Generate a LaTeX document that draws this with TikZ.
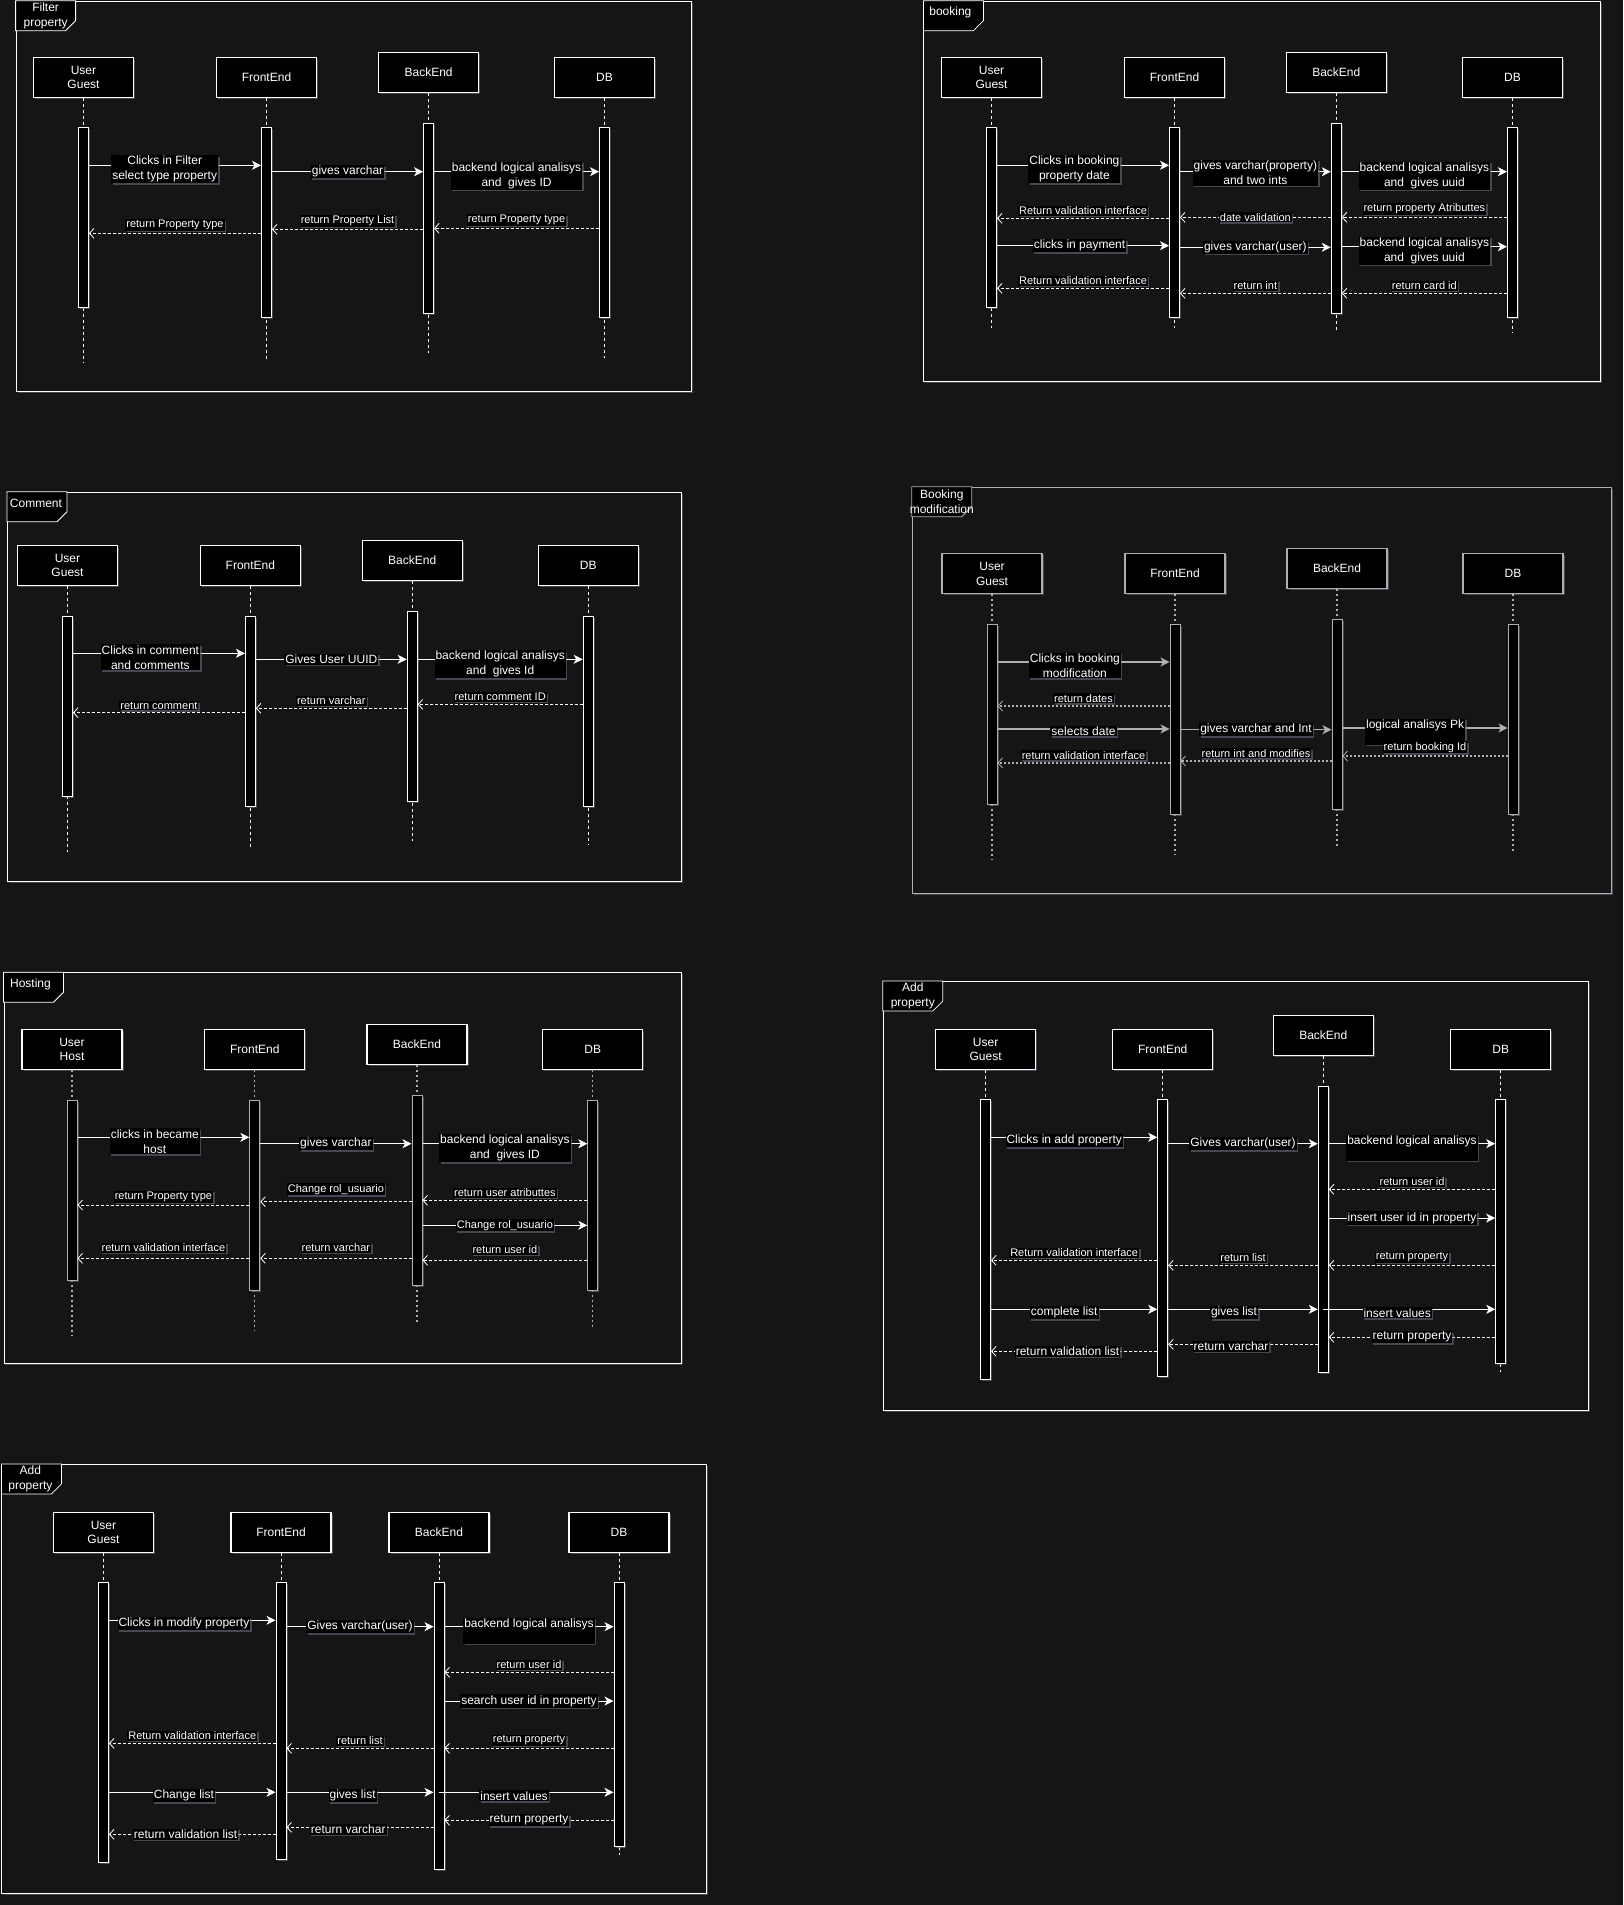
\documentclass[tikz,border=0pt]{standalone}
\usepackage{fontspec}
\setmainfont{Liberation Sans}
\usetikzlibrary{arrows.meta, calc, shadows}

\definecolor{bgc}{RGB}{21,21,21}
\definecolor{haloc}{RGB}{105,105,125}
\definecolor{inkgrey}{RGB}{175,175,175}
\colorlet{ink}{white}

\begin{document}
\begin{tikzpicture}[
  x=1pt, y=-1pt,
  halo/.style={drop shadow={shadow xshift=1.5pt, shadow yshift=-1.5pt, fill=haloc, opacity=0.6}},
  sdframe/.style={draw=ink, fill=bgc, line width=0.8pt, anchor=north west, inner sep=0pt, halo},
  sdtab/.style={draw=ink, fill=black, line width=0.8pt},
  tabtext/.style={text=white, align=center, font=\fontsize{12}{15}\selectfont, inner sep=0pt},
  actor/.style={
    draw=ink, fill=black, line width=1.1pt, minimum width=100pt, minimum height=40pt,
    inner sep=0pt, align=center, text=white, font=\fontsize{12}{14.5}\selectfont, halo
  },
  actbar/.style={draw=ink, fill=black, line width=1pt, minimum width=10pt, inner sep=0pt, anchor=north, halo},
  lifeline/.style={draw=ink, line width=0.7pt, dash pattern=on 3pt off 3pt},
  msg/.style={draw=ink, line width=0.9pt, -{Stealth[length=9pt, width=9pt, inset=2.5pt]}},
  back/.style={
    draw=ink, line width=0.8pt, dash pattern=on 3pt off 2pt,
    -{Straight Barb[length=4.5pt, width=10pt, line width=0.8pt]}
  },
  lbl/.style={fill=black, text=white, inner sep=1pt, align=center, font=\fontsize{12}{15}\selectfont, halo},
  rlbl/.style={lbl, font=\fontsize{11}{13}\selectfont}
]
  \fill[bgc] (0,0) rectangle (1623,1905);
  \useasboundingbox (0,0) rectangle (1623,1905);

  % ---- Filter property
  \node[sdframe, minimum width=675pt, minimum height=390pt] (fr1) at (15.6,0.7) {};
  \draw[sdtab] (fr1.north west) -- ++(60,0) -- ++(0,20) -- ++(-10,10) -- ++(-50,0) -- cycle;
  \node[tabtext] (t1) at ($(fr1.north west)+(30,15)$) {Filter\\property};

  \node[actor] (u1) at (83.5,77.3) {User\\Guest};
  \node[actor] (f1) at (266.5,77.3) {FrontEnd};
  \node[actor] (b1) at (428.6,72.3) {BackEnd};
  \node[actor] (d1) at (604.5,77.3) {DB};
  \draw[lifeline] (u1) -- (u1 |- 0,363);
  \draw[lifeline] (f1) -- (f1 |- 0,359);
  \draw[lifeline] (b1) -- (b1 |- 0,353);
  \draw[lifeline] (d1) -- (d1 |- 0,358);
  \node[actbar, minimum height=180pt] (u1a) at (u1 |- 0,127.3) {};
  \node[actbar, minimum height=190pt] (f1a) at (f1 |- 0,127.3) {};
  \node[actbar, minimum height=190pt] (b1a) at (b1 |- 0,122.7) {};
  \node[actbar, minimum height=190pt] (d1a) at (d1 |- 0,127.3) {};

  \draw[msg] (u1a.east |- 0,165.3) -- node[lbl, pos=.44, yshift=-4pt] {Clicks in Filter\\select type property} (f1a.west |- 0,165.3);
  \draw[msg] (f1a.east |- 0,171.7) -- node[lbl] {gives varchar} (b1a.west |- 0,171.7);
  \draw[msg] (b1a.east |- 0,171.7) -- node[lbl, yshift=-4pt] {backend logical analisys\\and~~gives ID} (d1a.west |- 0,171.7);
  \draw[back] (d1a.west |- 0,228.3) -- node[rlbl, above=2pt] {return Property type} (b1a.east |- 0,228.3);
  \draw[back] (b1a.west |- 0,229.3) -- node[rlbl, above=2pt] {return Property List} (f1a.east |- 0,229.3);
  \draw[back] (f1a.west |- 0,233.3) -- node[rlbl, above=2pt] {return Property type} (u1a.east |- 0,233.3);

  % ---- booking
  \node[sdframe, minimum width=676.3pt, minimum height=380.3pt] (fr2) at (923.4,0.7) {};
  \draw[sdtab] (fr2.north west) -- ++(60,0) -- ++(0,20) -- ++(-10,10) -- ++(-50,0) -- cycle;
  \node[tabtext] (t2) at ($(fr2.north west)+(27,12)$) {booking};

  \node[actor] (u2) at (991.5,77.3) {User\\Guest};
  \node[actor] (f2) at (1174.5,77.3) {FrontEnd};
  \node[actor] (b2) at (1336.3,72.3) {BackEnd};
  \node[actor] (d2) at (1512.4,77.3) {DB};
  \draw[lifeline] (u2) -- (u2 |- 0,328);
  \draw[lifeline] (f2) -- (f2 |- 0,328);
  \draw[lifeline] (b2) -- (b2 |- 0,330);
  \draw[lifeline] (d2) -- (d2 |- 0,333);
  \node[actbar, minimum height=180pt] (u2a) at (u2 |- 0,127.3) {};
  \node[actbar, minimum height=190pt] (f2a) at (f2 |- 0,127.3) {};
  \node[actbar, minimum height=190pt] (b2a) at (b2 |- 0,122.7) {};
  \node[actbar, minimum height=190pt] (d2a) at (d2 |- 0,127.3) {};

  \draw[msg] (u2a.east |- 0,165.3) -- node[lbl, pos=.45, yshift=-4pt] {Clicks in booking\\property date} (f2a.west |- 0,165.3);
  \draw[msg] (f2a.east |- 0,171.7) -- node[lbl, yshift=-1pt] {gives varchar(property)\\and two ints} (b2a.west |- 0,171.7);
  \draw[msg] (b2a.east |- 0,171.7) -- node[lbl, yshift=-4pt] {backend logical analisys\\and~~gives uuid} (d2a.west |- 0,171.7);
  \draw[back] (d2a.west |- 0,217.3) -- node[rlbl, above=2pt] {return property Atributtes} (b2a.east |- 0,217.3);
  \draw[back] (b2a.west |- 0,217.3) -- node[rlbl] {date validation} (f2a.east |- 0,217.3);
  \draw[back] (f2a.west |- 0,218.3) -- node[rlbl, above=2pt] {Return validation interface} (u2a.east |- 0,218.3);
  \draw[msg] (u2a.east |- 0,245.7) -- node[lbl, pos=.48] {clicks in payment} (f2a.west |- 0,245.7);
  \draw[msg] (f2a.east |- 0,247.3) -- node[lbl] {gives varchar(user)} (b2a.west |- 0,247.3);
  \draw[msg] (b2a.east |- 0,246.7) -- node[lbl, yshift=-4pt] {backend logical analisys\\and~~gives uuid} (d2a.west |- 0,246.7);
  \draw[back] (f2a.west |- 0,288.3) -- node[rlbl, above=2pt] {Return validation interface} (u2a.east |- 0,288.3);
  \draw[back] (b2a.west |- 0,293.3) -- node[rlbl, above=2pt] {return int} (f2a.east |- 0,293.3);
  \draw[back] (d2a.west |- 0,293.3) -- node[rlbl, above=2pt] {return card id} (b2a.east |- 0,293.3);

  % ---- Comment
  \node[sdframe, minimum width=674pt, minimum height=389.3pt] (fr3) at (7,491.7) {};
  \draw[sdtab] (fr3.north west) -- ++(60,0) -- ++(0,20) -- ++(-10,10) -- ++(-50,0) -- cycle;
  \node[tabtext] (t3) at ($(fr3.north west)+(29,12)$) {Comment};

  \node[actor] (u3) at (67.5,565.3) {User\\Guest};
  \node[actor] (f3) at (250.4,565.3) {FrontEnd};
  \node[actor] (b3) at (412.2,560.3) {BackEnd};
  \node[actor] (d3) at (588.2,565.3) {DB};
  \draw[lifeline] (u3) -- (u3 |- 0,851.7);
  \draw[lifeline] (f3) -- (f3 |- 0,846.7);
  \draw[lifeline] (b3) -- (b3 |- 0,841);
  \draw[lifeline] (d3) -- (d3 |- 0,845);
  \node[actbar, minimum height=180pt] (u3a) at (u3 |- 0,615.7) {};
  \node[actbar, minimum height=190pt] (f3a) at (f3 |- 0,615.7) {};
  \node[actbar, minimum height=190pt] (b3a) at (b3 |- 0,610.7) {};
  \node[actbar, minimum height=190pt] (d3a) at (d3 |- 0,615.7) {};

  \draw[msg] (u3a.east |- 0,653.3) -- node[lbl, pos=.45, yshift=-4pt] {Clicks in comment\\and comments} (f3a.west |- 0,653.3);
  \draw[msg] (f3a.east |- 0,659.3) -- node[lbl] {Gives User UUID} (b3a.west |- 0,659.3);
  \draw[msg] (b3a.east |- 0,659.3) -- node[lbl, yshift=-5pt] {backend logical analisys\\and~~gives Id} (d3a.west |- 0,659.3);
  \draw[back] (d3a.west |- 0,704.3) -- node[rlbl, above=2pt] {return comment ID} (b3a.east |- 0,704.3);
  \draw[back] (b3a.west |- 0,708.3) -- node[rlbl, above=2pt] {return varchar} (f3a.east |- 0,708.3);
  \draw[back] (f3a.west |- 0,712.7) -- node[rlbl, above=2pt] {return comment} (u3a.east |- 0,712.7);

  % ---- Booking modification
  \begin{scope}[
    lifeline/.style={draw=inkgrey, line width=1.4pt, dash pattern=on 2pt off 3pt},
    msg/.append style={line width=1.3pt},
    back/.append style={line width=1.3pt, dash pattern=on 2pt off 2pt}
  ]
  \colorlet{ink}{inkgrey}
  \node[sdframe, minimum width=699.2pt, minimum height=406.6pt] (fr4) at (911.8,486.7) {};
  \draw[sdtab] (fr4.north west) -- ++(60,0) -- ++(0,20) -- ++(-10,10) -- ++(-50,0) -- cycle;
  \node[tabtext] (t4) at ($(fr4.north west)+(30,15)$) {Booking\\modification};

  \node[actor] (u4) at (992,573.7) {User\\Guest};
  \node[actor] (f4) at (1175,573.7) {FrontEnd};
  \node[actor] (b4) at (1337,568.7) {BackEnd};
  \node[actor] (d4) at (1513,573.7) {DB};
  \draw[lifeline] (u4) -- (u4 |- 0,860);
  \draw[lifeline] (f4) -- (f4 |- 0,855);
  \draw[lifeline] (b4) -- (b4 |- 0,849);
  \draw[lifeline] (d4) -- (d4 |- 0,854);
  \node[actbar, minimum height=180pt] (u4a) at (u4 |- 0,624) {};
  \node[actbar, minimum height=190pt] (f4a) at (f4 |- 0,624) {};
  \node[actbar, minimum height=190pt] (b4a) at (b4 |- 0,619) {};
  \node[actbar, minimum height=190pt] (d4a) at (d4 |- 0,624) {};

  \draw[msg] (u4a.east |- 0,662) -- node[lbl, pos=.45, yshift=-3.5pt] {Clicks in booking\\modification} (f4a.west |- 0,662);
  \draw[back] (f4a.west |- 0,706) -- node[rlbl, above=2pt] {return dates} (u4a.east |- 0,706);
  \draw[msg] (u4a.east |- 0,729) -- node[lbl, yshift=-2pt] {selects date} (f4a.west |- 0,729);
  \draw[msg] (f4a.east |- 0,729.7) -- node[lbl] {gives varchar and Int} (b4a.west |- 0,729.7);
  \draw[msg] (b4a.east |- 0,728) -- node[lbl, pos=.44, yshift=-3.7pt] {logical analisys Pk\\~} (d4a.west |- 0,728);
  \draw[back] (d4a.west |- 0,756) -- node[rlbl, above=2pt] {return booking Id} (b4a.east |- 0,756);
  \draw[back] (b4a.west |- 0,761) -- node[rlbl, above=2pt] {return int and modifies} (f4a.east |- 0,761);
  \draw[back] (f4a.west |- 0,763) -- node[rlbl, above=2pt] {return validation interface} (u4a.east |- 0,763);
  \end{scope}

  % ---- Hosting
  \begin{scope}[
    lifeline/.style={draw=inkgrey, line width=1.3pt, dash pattern=on 2pt off 3pt},
    actbar/.append style={draw=inkgrey}
  ]
  \node[sdframe, minimum width=677.2pt, minimum height=391pt] (fr5) at (3.5,972.3) {};
  \draw[sdtab] (fr5.north west) -- ++(60,0) -- ++(0,20) -- ++(-10,10) -- ++(-50,0) -- cycle;
  \node[tabtext] (t5) at ($(fr5.north west)+(27,12)$) {Hosting};

  \node[actor] (u5) at (72,1049.3) {User\\Host};
  \node[actor] (f5) at (254.8,1049.3) {FrontEnd};
  \node[actor] (b5) at (417,1044.3) {BackEnd};
  \node[actor] (d5) at (592.8,1049.3) {DB};
  \draw[lifeline] (u5) -- (u5 |- 0,1335);
  \draw[lifeline] (f5) -- (f5 |- 0,1330);
  \draw[lifeline] (b5) -- (b5 |- 0,1324);
  \draw[lifeline] (d5) -- (d5 |- 0,1329);
  \node[actbar, minimum height=180pt] (u5a) at (u5 |- 0,1099.7) {};
  \node[actbar, minimum height=190pt] (f5a) at (f5 |- 0,1099.7) {};
  \node[actbar, minimum height=190pt] (b5a) at (b5 |- 0,1094.7) {};
  \node[actbar, minimum height=190pt] (d5a) at (d5 |- 0,1099.7) {};

  \draw[msg] (u5a.east |- 0,1137.3) -- node[lbl, pos=.45, yshift=-4pt] {clicks in became\\host} (f5a.west |- 0,1137.3);
  \draw[msg] (f5a.east |- 0,1143.7) -- node[lbl] {gives varchar} (b5a.west |- 0,1143.7);
  \draw[msg] (b5a.east |- 0,1143.7) -- node[lbl, yshift=-4.5pt] {backend logical analisys\\and~~gives ID} (d5a.west |- 0,1143.7);
  \draw[back] (d5a.west |- 0,1200.3) -- node[rlbl, above=2pt] {return user atributtes} (b5a.east |- 0,1200.3);
  \draw[back] (b5a.west |- 0,1201.7) -- node[rlbl, above=6pt] {Change rol\_usuario} (f5a.east |- 0,1201.7);
  \draw[back] (f5a.west |- 0,1205) -- node[rlbl, above=2pt] {return Property type} (u5a.east |- 0,1205);
  \draw[msg] (b5a.east |- 0,1225.3) -- node[rlbl] {Change rol\_usuario} (d5a.west |- 0,1225.3);
  \draw[back] (d5a.west |- 0,1260.3) -- node[rlbl, above=5pt] {return user id} (b5a.east |- 0,1260.3);
  \draw[back] (b5a.west |- 0,1258.3) -- node[rlbl, above=5pt] {return varchar} (f5a.east |- 0,1258.3);
  \draw[back] (f5a.west |- 0,1258.3) -- node[rlbl, above=5pt] {return validation interface} (u5a.east |- 0,1258.3);
  \end{scope}

  % ---- Add property
  \node[sdframe, minimum width=705.3pt, minimum height=428.7pt] (fr6) at (882.8,981) {};
  \draw[sdtab] (fr6.north west) -- ++(60,0) -- ++(0,20) -- ++(-10,10) -- ++(-50,0) -- cycle;
  \node[tabtext] (t6) at ($(fr6.north west)+(30,15)$) {Add\\property};

  \node[actor] (u6) at (985.6,1049.3) {User\\Guest};
  \node[actor] (f6) at (1162.7,1049.3) {FrontEnd};
  \node[actor] (b6) at (1323.3,1035.3) {BackEnd};
  \node[actor] (d6) at (1500.7,1049.3) {DB};
  \draw[lifeline] (u6) -- (u6 |- 0,1378.7);
  \draw[lifeline] (f6) -- (f6 |- 0,1376.3);
  \draw[lifeline] (b6) -- (b6 |- 0,1372.3);
  \draw[lifeline] (d6) -- (d6 |- 0,1372);
  \node[actbar, minimum height=279.4pt] (u6a) at (u6 |- 0,1099.3) {};
  \node[actbar, minimum height=277pt] (f6a) at (f6 |- 0,1099.3) {};
  \node[actbar, minimum height=286.6pt] (b6a) at (b6 |- 0,1085.7) {};
  \node[actbar, minimum height=263.7pt] (d6a) at (d6 |- 0,1099.3) {};

  \draw[msg] (u6a.east |- 0,1137.3) -- node[lbl, pos=.44, yshift=-3.5pt] {Clicks in add property} (f6a.west |- 0,1137.3);
  \draw[msg] (f6a.east |- 0,1143.7) -- node[lbl] {Gives varchar(user)} (b6a.west |- 0,1143.7);
  \draw[msg] (b6a.east |- 0,1143.7) -- node[lbl, yshift=-4pt] {backend logical analisys\\~} (d6a.west |- 0,1143.7);
  \draw[back] (d6a.west |- 0,1189.3) -- node[rlbl, above=2pt] {return user id} (b6a.east |- 0,1189.3);
  \draw[msg] (b6a.east |- 0,1218) -- node[lbl] {insert user id in property} (d6a.west |- 0,1218);
  \draw[back] (f6a.west |- 0,1260.3) -- node[rlbl, above=2pt] {Return validation interface} (u6a.east |- 0,1260.3);
  \draw[back] (b6a.west |- 0,1265.3) -- node[rlbl, above=2pt] {return list} (f6a.east |- 0,1265.3);
  \draw[back] (d6a.west |- 0,1265.3) -- node[rlbl, above=2pt] {return property} (b6a.east |- 0,1265.3);
  \draw[msg] (u6a.east |- 0,1309.3) -- node[lbl, pos=.44, yshift=-3.5pt] {complete list} (f6a.west |- 0,1309.3);
  \draw[msg] (f6a.east |- 0,1309.3) -- node[lbl, pos=.44, yshift=-3.5pt] {gives list} (b6a.west |- 0,1309.3);
  \draw[msg] (b6 |- 0,1309.3) -- node[lbl, pos=.43, yshift=-3.5pt] {insert values} (d6a.west |- 0,1309.3);
  \draw[back] (d6a.west |- 0,1337.3) -- node[lbl] {return property} (b6a.east |- 0,1337.3);
  \draw[back] (b6a.west |- 0,1344.3) -- node[lbl, pos=.58, yshift=-2pt] {return varchar} (f6a.east |- 0,1344.3);
  \draw[back] (f6a.west |- 0,1351.3) -- node[lbl, pos=.54] {return validation list} (u6a.east |- 0,1351.3);

  % ---- Add property (modify)
  \node[sdframe, minimum width=704.6pt, minimum height=428.7pt] (fr7) at (1.4,1464) {};
  \draw[sdtab] (fr7.north west) -- ++(60,0) -- ++(0,20) -- ++(-10,10) -- ++(-50,0) -- cycle;
  \node[tabtext] (t7) at ($(fr7.north west)+(29,15)$) {Add\\property};

  \node[actor] (u7) at (103.5,1532.3) {User\\Guest};
  \node[actor] (f7) at (281,1532.3) {FrontEnd};
  \node[actor] (b7) at (439,1532.3) {BackEnd};
  \node[actor] (d7) at (619,1532.3) {DB};
  \draw[lifeline] (u7) -- (u7 |- 0,1861.7);
  \draw[lifeline] (f7) -- (f7 |- 0,1859.3);
  \draw[lifeline] (b7) -- (b7 |- 0,1869.3);
  \draw[lifeline] (d7) -- (d7 |- 0,1855);
  \node[actbar, minimum height=279.4pt] (u7a) at (u7 |- 0,1582.3) {};
  \node[actbar, minimum height=277pt] (f7a) at (f7 |- 0,1582.3) {};
  \node[actbar, minimum height=287pt] (b7a) at (b7 |- 0,1582.3) {};
  \node[actbar, minimum height=263.7pt] (d7a) at (d7 |- 0,1582.3) {};

  \draw[msg] (u7a.east |- 0,1620.3) -- node[lbl, pos=.45, yshift=-3.5pt] {Clicks in modify property} (f7a.west |- 0,1620.3);
  \draw[msg] (f7a.east |- 0,1626.7) -- node[lbl] {Gives varchar(user)} (b7a.west |- 0,1626.7);
  \draw[msg] (b7a.east |- 0,1626.7) -- node[lbl, yshift=-4pt] {backend logical analisys\\~} (d7a.west |- 0,1626.7);
  \draw[back] (d7a.west |- 0,1672.3) -- node[rlbl, above=2pt] {return user id} (b7a.east |- 0,1672.3);
  \draw[msg] (b7a.east |- 0,1701) -- node[lbl] {search user id in property} (d7a.west |- 0,1701);
  \draw[back] (f7a.west |- 0,1743.3) -- node[rlbl, above=2pt] {Return validation interface} (u7a.east |- 0,1743.3);
  \draw[back] (b7a.west |- 0,1748.3) -- node[rlbl, above=2pt] {return list} (f7a.east |- 0,1748.3);
  \draw[back] (d7a.west |- 0,1748.3) -- node[rlbl, above=2pt] {return property} (b7a.east |- 0,1748.3);
  \draw[msg] (u7a.east |- 0,1792.3) -- node[lbl, pos=.45, yshift=-3.5pt] {Change list} (f7a.west |- 0,1792.3);
  \draw[msg] (f7a.east |- 0,1792.3) -- node[lbl, pos=.45, yshift=-3.5pt] {gives list} (b7a.west |- 0,1792.3);
  \draw[msg] (b7 |- 0,1792.3) -- node[lbl, pos=.43, yshift=-3.5pt] {insert values} (d7a.west |- 0,1792.3);
  \draw[back] (d7a.west |- 0,1820.3) -- node[lbl] {return property} (b7a.east |- 0,1820.3);
  \draw[back] (b7a.west |- 0,1827.3) -- node[lbl, pos=.58, yshift=-2pt] {return varchar} (f7a.east |- 0,1827.3);
  \draw[back] (f7a.west |- 0,1834.3) -- node[lbl, pos=.54] {return validation list} (u7a.east |- 0,1834.3);
\end{tikzpicture}
\end{document}
